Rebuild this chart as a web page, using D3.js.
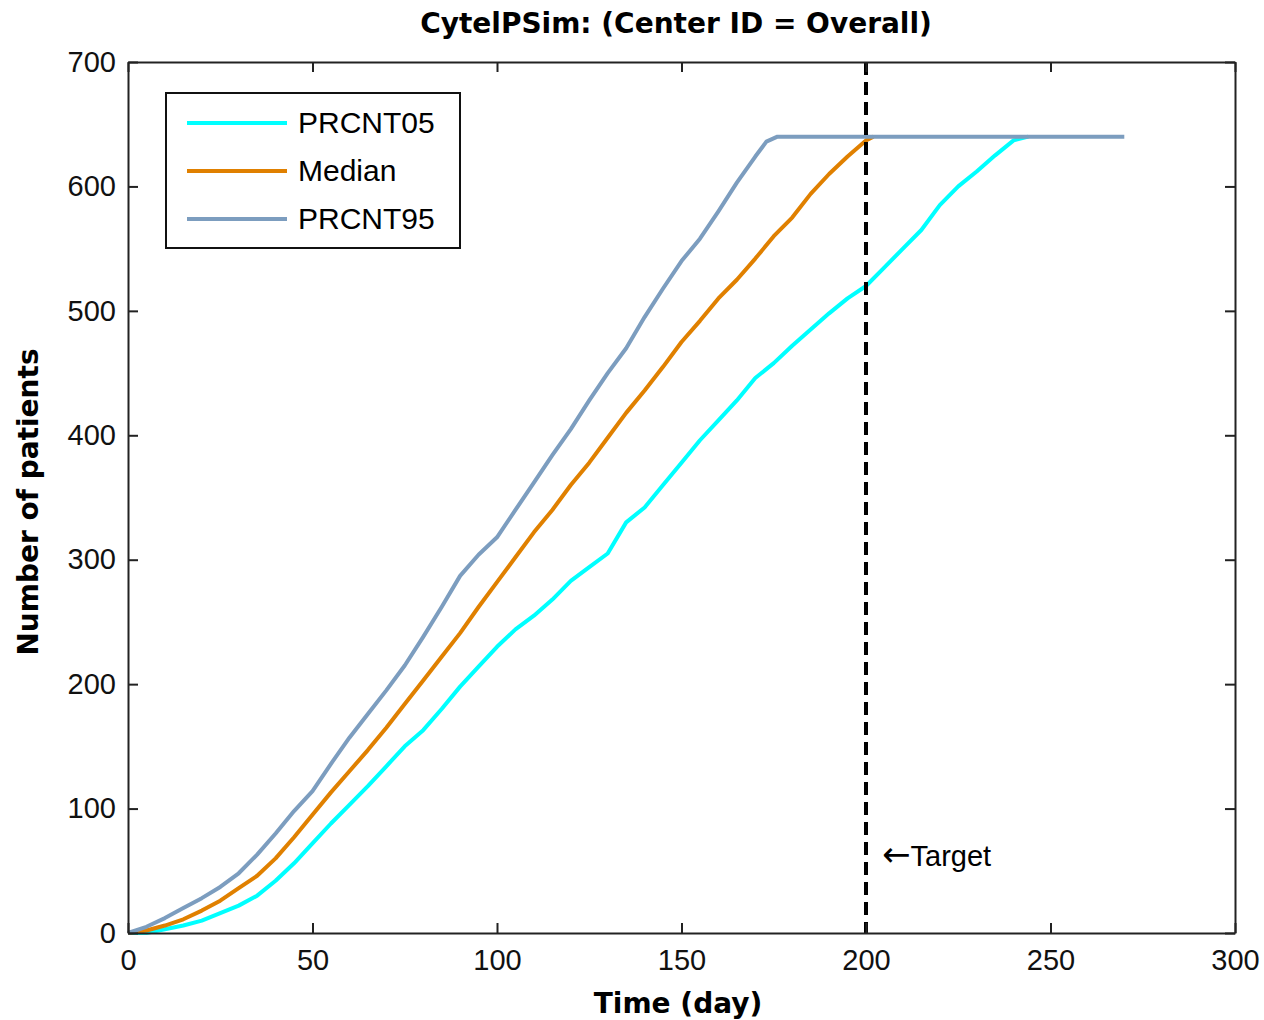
<!DOCTYPE html>
<html>
<head>
<meta charset="utf-8">
<script src="https://cdn.jsdelivr.net/npm/d3@7"></script>
<style>
  body { margin: 0; background: #fff; }
  svg text { font-family: "Liberation Sans", Arial, sans-serif; }
</style>
</head>
<body>
<svg id="chart" width="1264" height="1020"></svg>
<script>
// values (day, patients)
const days05 = [0,5,10,15,20,25,30,35,40,45,50,55,60,65,70,75,80,85,90,95,100,105,110,115,120,125,130,135,140,145,150,155,160,165,170,175,180,185,190,195,200,205,210,215,220,225,230,235,240,244];
const prcnt05 = [0,0,3,6,10,16,22,30,42,56,72,88,103,118,134,150,163,180,198,214,230,244,255,268,283,294,305,330,342,360,378,396,412,428,446,458,472,485,498,510,520,535,550,565,585,600,612,625,637,640];

const daysMed = [0,5,10,15,20,25,30,35,40,45,50,55,60,65,70,75,80,85,90,95,100,105,110,115,120,125,130,135,140,145,150,155,160,165,170,175,180,185,190,195,200,202];
const median = [0,2,6,11,18,26,36,46,60,77,95,113,130,147,165,184,203,222,241,262,282,302,322,340,360,378,398,418,436,455,475,492,510,525,542,560,575,594,610,624,637,640];

const days95 = [0,5,10,15,20,25,30,35,40,45,50,55,60,65,70,75,80,85,90,95,100,105,110,115,120,125,130,135,140,145,150,155,160,165,170,173,176,270];
const prcnt95 = [0,5,12,20,28,37,48,63,80,98,114,136,157,176,195,215,238,262,287,304,318,340,362,384,405,428,450,470,495,518,540,558,580,603,624,636,640,640];

const seriesNames = ["PRCNT05", "Median", "PRCNT95"];
const seriesColors = ["#00ffff", "#e08000", "#7c9dbf"];
const xTicks = [0, 50, 100, 150, 200, 250, 300];
const yTicks = [0, 100, 200, 300, 400, 500, 600, 700];
const targetDay = 200;

const svg = d3.select("#chart");
const plotL = 128, plotR = 1235, plotT = 62, plotB = 933;
const boldFont = "'DejaVu Sans', Verdana, sans-serif";

const x = d3.scaleLinear().domain([0, 300]).range([plotL, plotR]);
const y = d3.scaleLinear().domain([0, 700]).range([plotB, plotT]);

const series = [
  {name: seriesNames[0], color: seriesColors[0], pts: days05.map((d, i) => [d, prcnt05[i]])},
  {name: seriesNames[1], color: seriesColors[1], pts: daysMed.map((d, i) => [d, median[i]])},
  {name: seriesNames[2], color: seriesColors[2], pts: days95.map((d, i) => [d, prcnt95[i]])}
];

const line = d3.line().x(d => x(d[0])).y(d => y(d[1]));

svg.append("g").selectAll("path")
  .data(series)
  .enter()
  .append("path")
    .attr("d", d => line(d.pts))
    .attr("fill", "none")
    .attr("stroke", d => d.color)
    .attr("stroke-width", 4)
    .attr("stroke-linejoin", "round");

// target line
svg.append("line")
  .attr("x1", x(targetDay)).attr("x2", x(targetDay))
  .attr("y1", plotT).attr("y2", plotB)
  .attr("stroke", "#000")
  .attr("stroke-width", 4)
  .attr("stroke-dasharray", "13,7");

const tgt = svg.append("text")
  .attr("x", x(targetDay) + 16)
  .attr("y", 866)
  .attr("font-size", 29);
tgt.append("tspan").style("font-family", "'DejaVu Sans', sans-serif").attr("font-size", 34).text("\u2190");
tgt.append("tspan").text("Target");

// axes, ticks inward on every side
const tick = 10;
const fmt = d3.format("d");
svg.append("g")
  .attr("transform", `translate(0,${plotB})`)
  .call(d3.axisBottom(x).tickValues(xTicks).tickSizeInner(-tick).tickSizeOuter(0).tickPadding(16).tickFormat(fmt));
svg.append("g")
  .attr("transform", `translate(0,${plotT})`)
  .call(d3.axisTop(x).tickValues(xTicks).tickSizeInner(-tick).tickSizeOuter(0).tickFormat(""));
svg.append("g")
  .attr("transform", `translate(${plotL},0)`)
  .call(d3.axisLeft(y).tickValues(yTicks).tickSizeInner(-tick).tickSizeOuter(0).tickPadding(12).tickFormat(fmt));
svg.append("g")
  .attr("transform", `translate(${plotR},0)`)
  .call(d3.axisRight(y).tickValues(yTicks).tickSizeInner(-tick).tickSizeOuter(0).tickFormat(""));

svg.selectAll(".domain").attr("stroke", "#222").attr("stroke-width", 2);
svg.selectAll(".tick line").attr("stroke", "#222").attr("stroke-width", 2);
svg.selectAll(".tick text")
  .attr("font-size", 29)
  .attr("fill", "#111")
  .style("font-family", "'Liberation Sans', Arial, sans-serif");

// title and axis labels
svg.append("text")
  .attr("x", 676).attr("y", 33)
  .attr("text-anchor", "middle")
  .attr("font-size", 28).attr("font-weight", "bold")
  .style("font-family", boldFont)
  .text("CytelPSim: (Center ID = Overall)");

svg.append("text")
  .attr("x", 678).attr("y", 1013)
  .attr("text-anchor", "middle")
  .attr("font-size", 28).attr("font-weight", "bold")
  .style("font-family", boldFont)
  .text("Time (day)");

svg.append("text")
  .attr("transform", "translate(38,502) rotate(-90)")
  .attr("text-anchor", "middle")
  .attr("font-size", 28).attr("font-weight", "bold")
  .style("font-family", boldFont)
  .text("Number of patients");

// legend
const lg = svg.append("g").attr("transform", "translate(166,93)");
lg.append("rect")
  .attr("width", 294).attr("height", 155)
  .attr("fill", "#fff").attr("stroke", "#111").attr("stroke-width", 2);
series.forEach((s, i) => {
  const ry = 30 + i * 48;
  lg.append("line")
    .attr("x1", 21).attr("x2", 121).attr("y1", ry).attr("y2", ry)
    .attr("stroke", s.color).attr("stroke-width", 4);
  lg.append("text")
    .attr("x", 132).attr("y", ry + 10)
    .attr("font-size", 30)
    .text(s.name);
});
</script>
</body>
</html>
